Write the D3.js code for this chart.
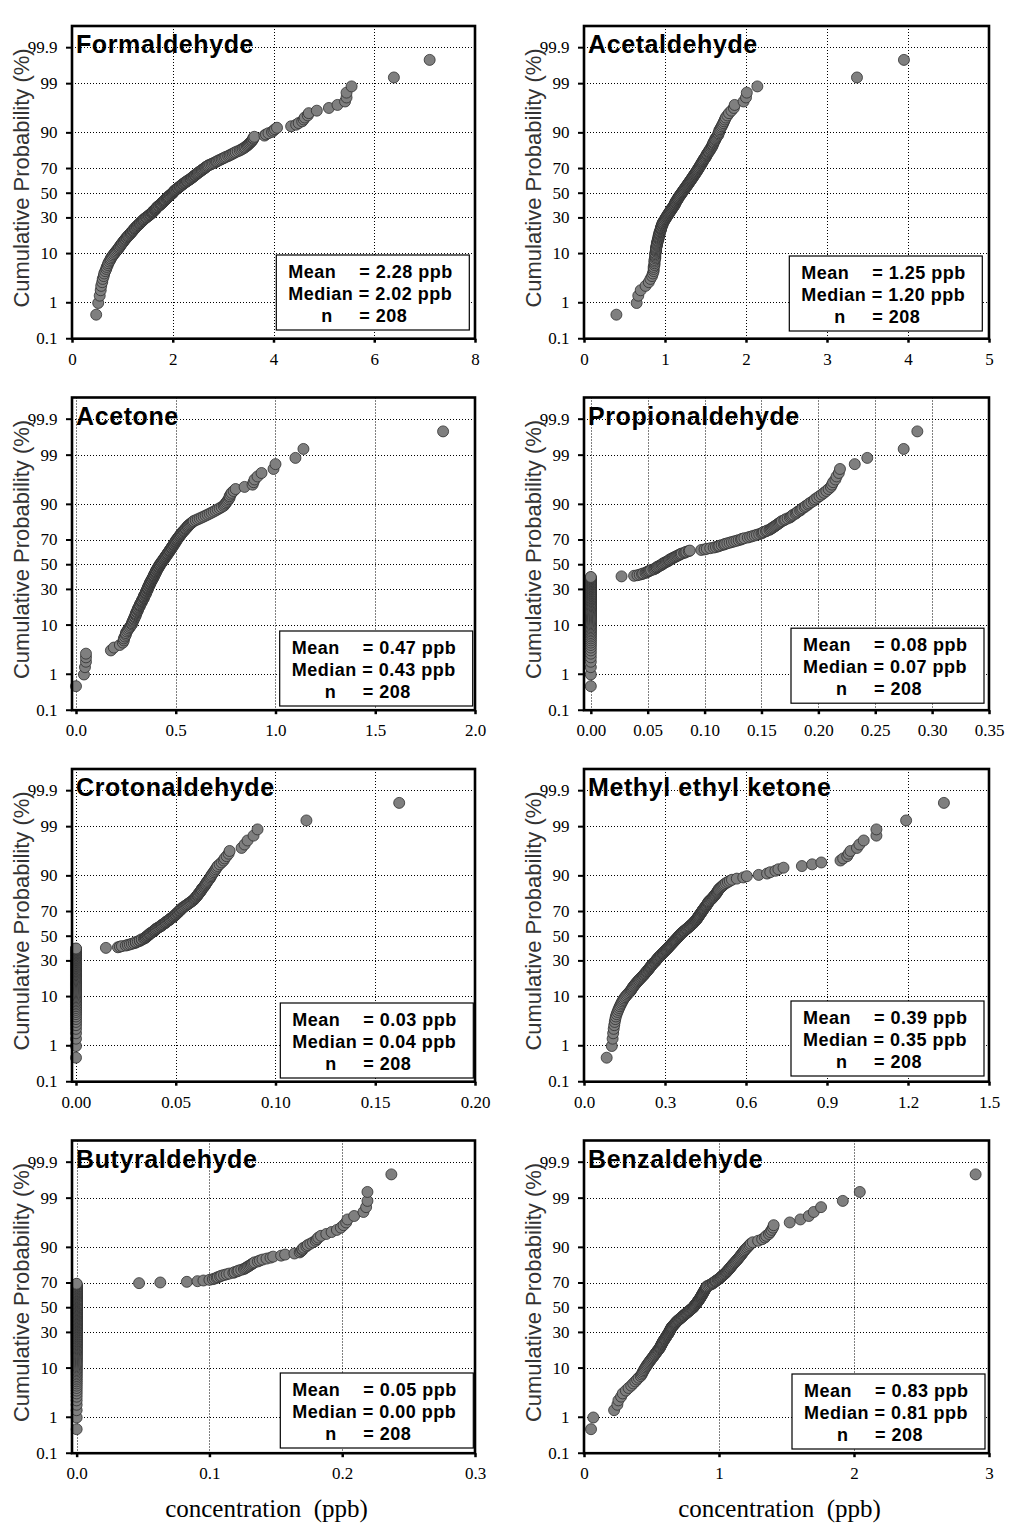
<!DOCTYPE html>
<html><head><meta charset="utf-8">
<script src="https://cdn.jsdelivr.net/npm/d3@7"></script>
<style>body{margin:0;background:#fff;}svg{display:block;}</style>
</head><body>
<svg id="chart" width="1022" height="1540"></svg>
<script>
// ---------- data ----------
const compoundNames = ["Formaldehyde","Acetaldehyde","Acetone","Propionaldehyde","Crotonaldehyde","Methyl ethyl ketone","Butyraldehyde","Benzaldehyde"];
const meanLabels   = ["2.28","1.25","0.47","0.08","0.03","0.39","0.05","0.83"];
const medianLabels = ["2.02","1.20","0.43","0.07","0.04","0.35","0.00","0.81"];
const nLabels      = ["208","208","208","208","208","208","208","208"];

const probTicks  = [0.1, 1, 10, 30, 50, 70, 90, 99, 99.9];
const probLabels = ["0.1","1","10","30","50","70","90","99","99.9"];

const xDomains = [[0,8],[0,5],[-0.02,2],[-0.006,0.35],[-0.002,0.2],[0,1.5],[-0.0035,0.3],[0,3]];
const xTicks = [[0,2,4,6,8],[0,1,2,3,4,5],[0,0.5,1,1.5,2],[0,0.05,0.1,0.15,0.2,0.25,0.3,0.35],[0,0.05,0.1,0.15,0.2],[0,0.3,0.6,0.9,1.2,1.5],[0,0.1,0.2,0.3],[0,1,2,3]];
const xTickLabels = [["0","2","4","6","8"],["0","1","2","3","4","5"],["0.0","0.5","1.0","1.5","2.0"],["0.00","0.05","0.10","0.15","0.20","0.25","0.30","0.35"],["0.00","0.05","0.10","0.15","0.20"],["0.0","0.3","0.6","0.9","1.2","1.5"],["0.0","0.1","0.2","0.3"],["0","1","2","3"]];

const formaldehyde = [
0.48,0.52,0.55,0.57,0.58,0.60,0.61,0.63,0.64,0.66,
0.68,0.69,0.71,0.72,0.74,0.76,0.77,0.79,0.81,0.83,
0.85,0.87,0.89,0.91,0.93,0.94,0.96,0.97,0.99,1.00,
1.02,1.03,1.05,1.06,1.08,1.09,1.11,1.12,1.14,1.16,
1.17,1.18,1.20,1.21,1.22,1.24,1.25,1.26,1.28,1.29,
1.31,1.32,1.34,1.35,1.36,1.38,1.39,1.41,1.42,1.43,
1.45,1.47,1.48,1.50,1.52,1.53,1.55,1.56,1.58,1.59,
1.60,1.61,1.62,1.64,1.65,1.66,1.67,1.68,1.69,1.70,
1.72,1.73,1.75,1.76,1.77,1.78,1.80,1.81,1.82,1.83,
1.84,1.85,1.87,1.88,1.89,1.90,1.91,1.92,1.94,1.95,
1.96,1.98,1.99,2.00,2.01,2.02,2.03,2.04,2.05,2.07,
2.08,2.10,2.11,2.13,2.14,2.15,2.17,2.18,2.20,2.21,
2.23,2.24,2.26,2.28,2.29,2.31,2.33,2.35,2.36,2.38,
2.39,2.41,2.42,2.44,2.45,2.47,2.48,2.50,2.51,2.53,
2.55,2.57,2.58,2.60,2.62,2.64,2.65,2.67,2.69,2.71,
2.74,2.77,2.80,2.83,2.86,2.88,2.91,2.94,2.97,3.00,
3.03,3.06,3.10,3.13,3.16,3.19,3.22,3.25,3.29,3.33,
3.36,3.39,3.42,3.44,3.47,3.49,3.51,3.53,3.55,3.57,
3.58,3.60,3.60,3.62,3.82,3.85,3.90,3.97,4.00,4.03,
4.07,4.35,4.45,4.50,4.57,4.60,4.62,4.68,4.70,4.86,
5.10,5.27,5.42,5.45,5.45,5.55,6.39,7.10];

const acetaldehyde = [
0.40,0.65,0.67,0.70,0.76,0.80,0.82,0.84,0.85,0.86,
0.86,0.86,0.87,0.87,0.87,0.87,0.88,0.88,0.88,0.88,
0.88,0.89,0.89,0.89,0.89,0.89,0.90,0.90,0.90,0.90,
0.91,0.91,0.91,0.92,0.92,0.92,0.92,0.93,0.93,0.93,
0.93,0.94,0.94,0.94,0.95,0.95,0.95,0.95,0.96,0.96,
0.96,0.97,0.97,0.97,0.98,0.98,0.99,0.99,1.00,1.00,
1.01,1.01,1.02,1.02,1.03,1.03,1.04,1.04,1.05,1.05,
1.06,1.06,1.07,1.07,1.08,1.08,1.09,1.09,1.10,1.10,
1.11,1.11,1.12,1.12,1.12,1.13,1.13,1.13,1.14,1.14,
1.15,1.15,1.16,1.16,1.16,1.17,1.17,1.18,1.18,1.19,
1.19,1.20,1.20,1.21,1.21,1.22,1.22,1.23,1.23,1.24,
1.24,1.25,1.25,1.26,1.26,1.27,1.27,1.28,1.28,1.29,
1.29,1.30,1.30,1.31,1.31,1.32,1.32,1.33,1.33,1.34,
1.34,1.35,1.35,1.36,1.36,1.37,1.37,1.38,1.38,1.39,
1.39,1.40,1.40,1.41,1.41,1.42,1.42,1.43,1.43,1.44,
1.44,1.45,1.45,1.46,1.46,1.47,1.47,1.48,1.48,1.49,
1.50,1.50,1.51,1.51,1.52,1.52,1.53,1.54,1.54,1.55,
1.56,1.56,1.57,1.58,1.58,1.59,1.59,1.60,1.60,1.61,
1.62,1.62,1.63,1.64,1.65,1.66,1.66,1.67,1.67,1.68,
1.69,1.70,1.71,1.72,1.73,1.74,1.75,1.77,1.79,1.82,
1.85,1.86,1.97,2.00,2.01,2.14,3.37,3.95];

const acetone = [
0.00,0.04,0.045,0.05,0.05,0.05,0.175,0.19,0.22,0.235,
0.24,0.24,0.245,0.25,0.25,0.255,0.26,0.265,0.27,0.275,
0.28,0.28,0.285,0.285,0.29,0.29,0.295,0.295,0.30,0.30,
0.30,0.305,0.305,0.31,0.31,0.31,0.315,0.315,0.32,0.32,
0.32,0.325,0.325,0.33,0.33,0.33,0.335,0.335,0.34,0.34,
0.34,0.34,0.345,0.345,0.35,0.35,0.35,0.35,0.355,0.355,
0.355,0.36,0.36,0.36,0.36,0.365,0.365,0.365,0.37,0.37,
0.37,0.37,0.375,0.375,0.375,0.38,0.38,0.38,0.385,0.385,
0.385,0.39,0.39,0.39,0.39,0.395,0.395,0.395,0.40,0.40,
0.40,0.40,0.405,0.405,0.405,0.41,0.41,0.41,0.415,0.415,
0.415,0.42,0.42,0.42,0.425,0.425,0.43,0.43,0.43,0.435,
0.435,0.44,0.44,0.44,0.445,0.445,0.45,0.45,0.45,0.455,
0.455,0.46,0.46,0.46,0.465,0.465,0.47,0.47,0.47,0.475,
0.475,0.48,0.48,0.48,0.485,0.485,0.49,0.49,0.49,0.495,
0.495,0.50,0.50,0.50,0.505,0.505,0.51,0.51,0.515,0.515,
0.52,0.52,0.525,0.525,0.53,0.53,0.535,0.54,0.54,0.545,
0.55,0.55,0.555,0.56,0.56,0.565,0.57,0.575,0.58,0.585,
0.59,0.60,0.61,0.62,0.63,0.64,0.65,0.66,0.67,0.68,
0.69,0.70,0.71,0.72,0.73,0.74,0.745,0.75,0.755,0.76,
0.765,0.77,0.77,0.775,0.78,0.79,0.80,0.845,0.885,0.89,
0.895,0.91,0.93,0.99,1.00,1.10,1.14,1.84];

const propionaldehyde = [
0,0,0,0,0,0,0,0,0,0,
0,0,0,0,0,0,0,0,0,0,
0,0,0,0,0,0,0,0,0,0,
0,0,0,0,0,0,0,0,0,0,
0,0,0,0,0,0,0,0,0,0,
0,0,0,0,0,0,0,0,0,0,
0,0,0,0,0,0,0,0,0,0,
0,0,0,0,0,0,0,0,0,0,
0,0,
0.027,0.038,0.041,0.043,0.045,0.046,0.048,0.049,
0.050,0.051,0.052,0.053,0.055,0.056,0.057,0.058,0.058,0.059,
0.060,0.061,0.062,0.063,0.063,0.064,0.065,0.066,0.067,0.068,
0.069,0.069,0.070,0.071,0.072,0.073,0.074,0.075,0.076,0.077,
0.078,0.079,0.080,0.082,0.083,0.084,0.086,0.087,0.097,0.100,
0.102,0.105,0.108,0.110,0.112,0.113,0.115,0.117,0.118,0.120,
0.122,0.124,0.126,0.128,0.130,0.132,0.133,0.135,0.138,0.140,
0.142,0.144,0.146,0.148,0.150,0.151,0.152,0.154,0.155,0.157,
0.158,0.159,0.160,0.161,0.162,0.163,0.164,0.165,0.166,0.167,
0.168,0.170,0.171,0.173,0.175,0.176,0.177,0.178,0.180,0.181,
0.182,0.184,0.185,0.186,0.188,0.189,0.191,0.192,0.194,0.196,
0.197,0.199,0.201,0.203,0.205,0.207,0.209,0.211,0.212,0.213,
0.215,0.216,0.218,0.219,0.232,0.243,0.275,0.287];

const crotonaldehyde = [
0,0,0,0,0,0,0,0,0,0,
0,0,0,0,0,0,0,0,0,0,
0,0,0,0,0,0,0,0,0,0,
0,0,0,0,0,0,0,0,0,0,
0,0,0,0,0,0,0,0,0,0,
0,0,0,0,0,0,0,0,0,0,
0,0,0,0,0,0,0,0,0,0,
0,0,0,0,0,0,0,0,0,0,
0,0,
0.015,0.021,0.022,0.023,0.025,0.026,0.027,0.028,
0.029,0.030,0.030,0.031,0.032,0.032,0.033,0.033,0.034,0.0345,
0.035,0.035,0.0355,0.036,0.036,0.0365,0.037,0.037,0.0375,0.038,
0.0385,0.039,0.039,0.0395,0.040,0.040,0.0405,0.041,0.0415,0.042,
0.0425,0.043,0.043,0.0435,0.044,0.0445,0.045,0.045,0.0455,0.046,
0.0465,0.047,0.047,0.0475,0.048,0.0485,0.049,0.049,0.0495,0.050,
0.050,0.0505,0.051,0.051,0.0515,0.052,0.052,0.0525,0.053,0.053,
0.0535,0.054,0.0545,0.055,0.0555,0.056,0.0565,0.057,0.0575,0.058,
0.0585,0.059,0.0593,0.0597,0.060,0.0603,0.0607,0.061,0.0613,0.0615,
0.062,0.0623,0.0626,0.063,0.063,0.0635,0.064,0.0643,0.0647,0.065,
0.0653,0.0657,0.066,0.0665,0.067,0.0673,0.0677,0.068,0.0685,0.069,
0.0695,0.070,0.0705,0.071,0.072,0.073,0.074,0.0745,0.0755,0.0765,
0.077,0.083,0.0845,0.086,0.089,0.091,0.1155,0.162];

const methylEthylKetone = [
0.084,0.103,0.106,0.108,0.110,0.112,0.114,0.116,0.118,0.121,
0.124,0.127,0.130,0.133,0.136,0.139,0.142,0.145,0.148,0.152,
0.156,0.160,0.164,0.168,0.172,0.175,0.177,0.180,0.182,0.185,
0.188,0.191,0.194,0.197,0.200,0.203,0.206,0.209,0.212,0.215,
0.218,0.221,0.223,0.226,0.228,0.231,0.233,0.235,0.238,0.240,
0.242,0.244,0.246,0.248,0.250,0.252,0.254,0.256,0.259,0.262,
0.264,0.266,0.268,0.270,0.272,0.274,0.276,0.278,0.281,0.283,
0.285,0.287,0.290,0.292,0.294,0.296,0.298,0.300,0.303,0.305,
0.307,0.309,0.311,0.313,0.315,0.317,0.319,0.321,0.323,0.325,
0.327,0.329,0.331,0.333,0.335,0.337,0.339,0.341,0.343,0.345,
0.347,0.349,0.351,0.352,0.354,0.356,0.358,0.360,0.362,0.365,
0.367,0.370,0.372,0.375,0.377,0.380,0.382,0.385,0.387,0.390,
0.392,0.395,0.397,0.399,0.402,0.404,0.406,0.408,0.410,0.412,
0.414,0.416,0.418,0.419,0.421,0.422,0.424,0.425,0.427,0.428,
0.430,0.432,0.433,0.435,0.437,0.438,0.440,0.441,0.443,0.445,
0.447,0.449,0.451,0.453,0.455,0.456,0.458,0.460,0.461,0.463,
0.466,0.469,0.472,0.475,0.477,0.480,0.482,0.485,0.487,0.490,
0.492,0.494,0.496,0.498,0.500,0.504,0.508,0.512,0.516,0.520,
0.526,0.533,0.540,0.548,0.566,0.590,0.603,
0.647,0.678,0.690,0.709,0.720,0.739,0.807,0.845,0.879,0.950,
0.960,0.975,0.980,0.987,1.011,1.020,1.036,1.083,1.083,1.193,1.333];

const butyraldehyde = [
0,0,0,0,0,0,0,0,0,0,
0,0,0,0,0,0,0,0,0,0,
0,0,0,0,0,0,0,0,0,0,
0,0,0,0,0,0,0,0,0,0,
0,0,0,0,0,0,0,0,0,0,
0,0,0,0,0,0,0,0,0,0,
0,0,0,0,0,0,0,0,0,0,
0,0,0,0,0,0,0,0,0,0,
0,0,0,0,0,0,0,0,0,0,
0,0,0,0,0,0,0,0,0,0,
0,0,0,0,0,0,0,0,0,0,
0,0,0,0,0,0,0,0,0,0,
0,0,0,0,0,0,0,0,0,0,
0,0,0,0,0,0,0,0,0,0,
0,0,0,0,
0.047,0.063,0.083,0.091,0.0955,0.100,
0.1026,0.104,0.1055,0.1064,0.108,0.109,0.111,0.113,0.115,0.118,
0.119,0.121,0.122,0.124,0.126,0.127,0.128,0.129,0.130,0.131,
0.132,0.133,0.134,0.1365,0.138,0.140,0.143,0.146,0.148,0.154,
0.157,0.164,0.168,0.169,0.170,0.170,0.171,0.173,0.174,0.176,
0.178,0.180,0.181,0.182,0.184,0.188,0.192,0.196,0.199,0.201,
0.203,0.204,0.209,0.216,0.218,0.219,0.219,0.237];

const benzaldehyde = [
0.052,0.069,0.223,0.247,0.255,0.275,0.287,0.310,0.330,0.350,
0.365,0.380,0.393,0.405,0.420,0.427,0.433,0.438,0.444,0.450,
0.456,0.462,0.468,0.474,0.480,0.486,0.492,0.498,0.504,0.510,
0.515,0.520,0.525,0.530,0.535,0.540,0.545,0.550,0.555,0.560,
0.563,0.566,0.569,0.572,0.575,0.578,0.581,0.584,0.587,0.590,
0.594,0.598,0.601,0.605,0.608,0.611,0.614,0.617,0.621,0.625,
0.627,0.630,0.632,0.635,0.637,0.640,0.642,0.645,0.647,0.650,
0.654,0.658,0.662,0.666,0.670,0.674,0.678,0.682,0.686,0.690,
0.695,0.700,0.705,0.710,0.715,0.720,0.725,0.730,0.735,0.740,
0.745,0.750,0.755,0.760,0.765,0.770,0.775,0.780,0.785,0.790,
0.795,0.800,0.805,0.810,0.813,0.816,0.819,0.822,0.826,0.830,
0.833,0.836,0.839,0.842,0.845,0.848,0.851,0.854,0.857,0.860,
0.862,0.865,0.867,0.870,0.872,0.875,0.877,0.880,0.882,0.885,
0.887,0.890,0.892,0.895,0.897,0.900,0.902,0.905,0.907,0.910,
0.920,0.930,0.940,0.950,0.955,0.960,0.970,0.975,0.980,0.990,
0.996,1.002,1.008,1.014,1.020,1.026,1.032,1.038,1.044,1.050,
1.055,1.060,1.065,1.070,1.075,1.080,1.085,1.090,1.095,1.100,
1.106,1.112,1.118,1.124,1.130,1.136,1.142,1.148,1.154,1.160,
1.166,1.172,1.178,1.184,1.190,1.199,1.208,1.217,1.226,1.235,
1.250,1.290,1.320,1.340,1.350,1.370,1.380,1.390,1.400,1.405,
1.524,1.603,1.665,1.702,1.756,1.917,2.043,2.901];

const seriesList = [formaldehyde, acetaldehyde, acetone, propionaldehyde, crotonaldehyde, methylEthylKetone, butyraldehyde, benzaldehyde];

// ---------- normal quantile (probability-axis transform) ----------
function probit(p){
  const a=[-3.969683028665376e+01,2.209460984245205e+02,-2.759285104469687e+02,1.383577518672690e+02,-3.066479806614716e+01,2.506628277459239e+00];
  const b=[-5.447609879822406e+01,1.615858368580409e+02,-1.556989798598866e+02,6.680131188771972e+01,-1.328068155288572e+01];
  const c=[-7.784894002430293e-03,-3.223964580411365e-01,-2.400758277161838e+00,-2.549732539343734e+00,4.374664141464968e+00,2.938163982698783e+00];
  const d=[7.784695709041462e-03,3.224671290700398e-01,2.445134137142996e+00,3.754408661907416e+00];
  const pl=0.02425, ph=1-pl; let q,r;
  if(p<pl){q=Math.sqrt(-2*Math.log(p));return (((((c[0]*q+c[1])*q+c[2])*q+c[3])*q+c[4])*q+c[5])/((((d[0]*q+d[1])*q+d[2])*q+d[3])*q+1);}
  if(p>ph){q=Math.sqrt(-2*Math.log(1-p));return -(((((c[0]*q+c[1])*q+c[2])*q+c[3])*q+c[4])*q+c[5])/((((d[0]*q+d[1])*q+d[2])*q+d[3])*q+1);}
  q=p-0.5;r=q*q;return (((((a[0]*r+a[1])*r+a[2])*r+a[3])*r+a[4])*r+a[5])*q/(((((b[0]*r+b[1])*r+b[2])*r+b[3])*r+b[4])*r+1);
}

// ---------- layout ----------
const svg = d3.select("#chart");
const colLeft = [72, 584], colRight = [475, 989];
const rowTop = [26, 397.5, 769, 1140.5];
const plotH = 312.7;
const zMin = -3.1, zMax = 3.54;
const boxGaps = [[5.7,8.7],[6.7,7.7],[2.3,4.2],[5,7],[1.7,3.7],[5,5.7],[1.7,5.2],[4,4.2]];
const SANS = "Arial, 'Liberation Sans', Helvetica, sans-serif";
const SERIF = "'Times New Roman', 'Liberation Serif', serif";

seriesList.forEach((vals, k) => {
  const col = k % 2, row = Math.floor(k / 2);
  const L = colLeft[col], R = colRight[col], T = rowTop[row], B = T + plotH;
  const x = d3.scaleLinear().domain(xDomains[k]).range([L, R]);
  const y = d3.scaleLinear().domain([zMin, zMax]).range([B, T]);
  const g = svg.append("g");
  const n = vals.length;
  const pts = vals.map((v, i) => ({v, z: probit((i + 1) / (n + 0.5))}));

  // grid
  const gridY = probTicks.filter(p => p > 0.1);
  g.selectAll(".hg").data(gridY).join("line")
    .attr("x1", L).attr("x2", R)
    .attr("y1", d => Math.round(y(probit(d/100))) + 0.5)
    .attr("y2", d => Math.round(y(probit(d/100))) + 0.5)
    .attr("stroke", "#000").attr("stroke-width", 1).attr("stroke-dasharray", "1,2");
  const gridX = xTicks[k].filter(v => Math.abs(x(v) - L) > 2 && Math.abs(x(v) - R) > 2);
  g.selectAll(".vg").data(gridX).join("line")
    .attr("y1", T).attr("y2", B)
    .attr("x1", d => Math.round(x(d)) + 0.5).attr("x2", d => Math.round(x(d)) + 0.5)
    .attr("stroke", "#000").attr("stroke-width", 1).attr("stroke-dasharray", "1,2");

  // stats box
  const bw = 193, bh = 75;
  const bx = R - boxGaps[k][0] - bw, by = B - boxGaps[k][1] - bh;
  g.append("rect").attr("x", bx).attr("y", by).attr("width", bw).attr("height", bh)
    .attr("fill", "#fff").attr("stroke", "#000").attr("stroke-width", 1.2);
  const bt = g.append("g").attr("font-family", SANS).attr("font-weight", "bold")
    .attr("font-size", 18).attr("letter-spacing", 0.5).attr("fill", "#000");
  bt.append("text").attr("x", bx + 12).attr("y", by + 23).text("Mean");
  bt.append("text").attr("x", bx + 83).attr("y", by + 23).text("= " + meanLabels[k] + " ppb");
  bt.append("text").attr("x", bx + 12).attr("y", by + 45).text("Median = " + medianLabels[k] + " ppb");
  bt.append("text").attr("x", bx + 45).attr("y", by + 67).text("n");
  bt.append("text").attr("x", bx + 83).attr("y", by + 67).text("= " + nLabels[k]);

  // points
  g.selectAll(".pt").data(pts).join("circle")
    .attr("cx", d => x(d.v)).attr("cy", d => y(d.z)).attr("r", 5.5)
    .attr("fill", "#7f7f7f").attr("stroke", "#2e2e2e").attr("stroke-width", 0.8);

  // axes
  const yAxis = d3.axisLeft(y).tickValues(probTicks.map(p => probit(p/100)))
    .tickFormat((d, i) => probLabels[i]).tickSize(6).tickPadding(8.5);
  const ga = g.append("g").attr("transform", `translate(${L},0)`).call(yAxis);
  ga.select(".domain").remove();
  ga.selectAll("line").attr("stroke", "#000").attr("stroke-width", 2);
  ga.selectAll("text").attr("font-family", SERIF).attr("font-size", 17).attr("fill", "#000");

  const xAxis = d3.axisBottom(x).tickValues(xTicks[k])
    .tickFormat((d, i) => xTickLabels[k][i]).tickSize(4).tickPadding(10);
  const gx = g.append("g").attr("transform", `translate(0,${B})`).call(xAxis);
  gx.select(".domain").remove();
  gx.selectAll("line").attr("stroke", "#000").attr("stroke-width", 2.5);
  gx.selectAll("text").attr("font-family", SERIF).attr("font-size", 17).attr("fill", "#000");

  // frame
  g.append("rect").attr("x", L).attr("y", T).attr("width", R - L).attr("height", B - T)
    .attr("fill", "none").attr("stroke", "#000").attr("stroke-width", 2.6);

  // title
  g.append("text").attr("x", L + 4).attr("y", T + 27)
    .attr("font-family", SANS).attr("font-weight", "bold").attr("font-size", 25)
    .attr("letter-spacing", 0.6).attr("fill", "#000").text(compoundNames[k]);

  // y-axis title
  g.append("text")
    .attr("transform", `translate(${L - 43},${T + 152}) rotate(-90)`)
    .attr("text-anchor", "middle").attr("font-family", SANS).attr("font-size", 22)
    .attr("fill", "#333").text("Cumulative Probability (%)");
});

// bottom x-axis titles
[0, 1].forEach(col => {
  svg.append("text")
    .attr("x", (colLeft[col] + colRight[col]) / 2 - 7).attr("y", 1517)
    .attr("text-anchor", "middle").attr("font-family", SERIF).attr("font-size", 25)
    .attr("xml:space", "preserve").style("white-space", "pre")
    .attr("fill", "#000").text("concentration  (ppb)");
});
</script>
</body></html>
